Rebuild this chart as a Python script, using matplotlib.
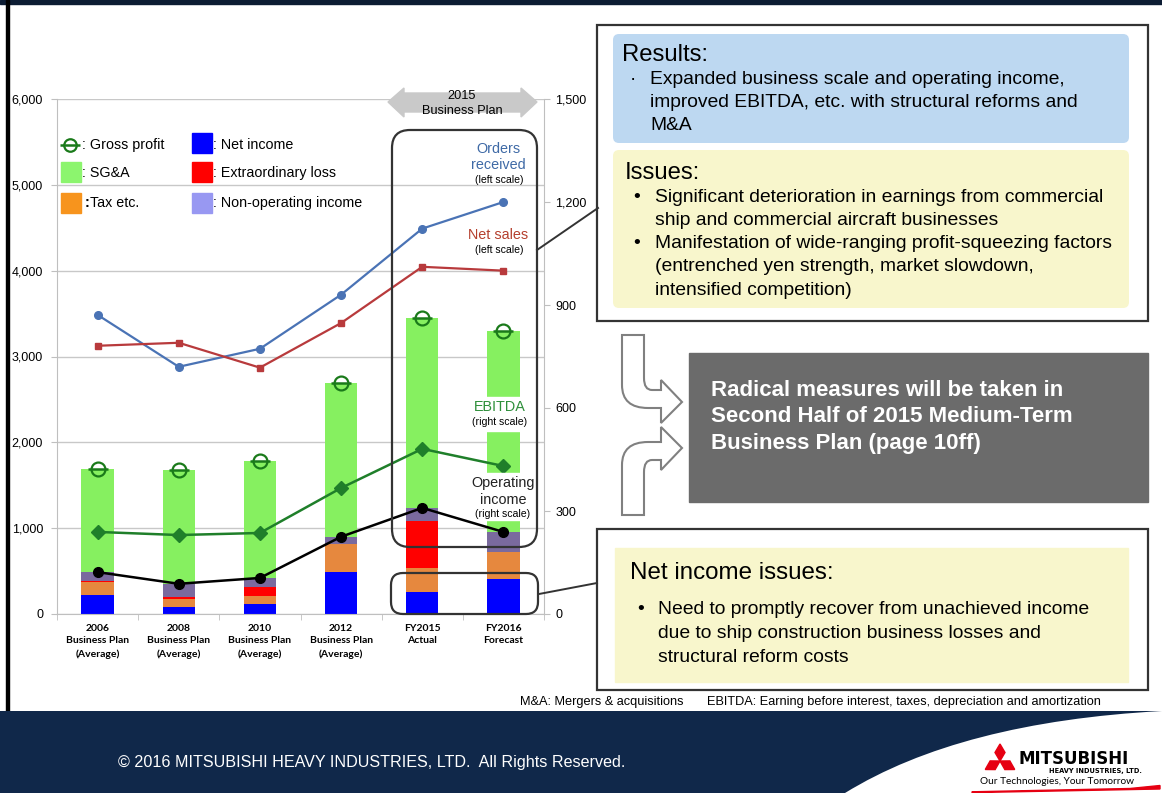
import matplotlib
matplotlib.use("Agg")
import matplotlib.pyplot as plt
import numpy as np
from matplotlib.patches import Rectangle, FancyBboxPatch, PathPatch, Polygon
from matplotlib.path import Path
from matplotlib.ticker import FuncFormatter, MultipleLocator, FixedLocator

plt.rcParams['font.family'] = ['Liberation Sans', 'DejaVu Sans']

# data (left scale: 100 million yen; right scale for EBITDA / operating income)
categories = ["2006\nBusiness Plan\n(Average)", "2008\nBusiness Plan\n(Average)",
              "2010\nBusiness Plan\n(Average)", "2012\nBusiness Plan\n(Average)",
              "FY2015\nActual", "FY2016\nForecast"]
net_income = [220, 80, 115, 490, 255, 405]
tax_etc = [150, 100, 95, 325, 280, 315]
extraordinary_loss = [20, 15, 105, 0, 550, 0]
non_operating = [100, 155, 105, 85, 150, 235]
sga = [1200, 1330, 1365, 1790, 2215, 2345]
gross_profit = [1690, 1680, 1785, 2690, 3450, 3300]
orders_received = [3485, 2880, 3090, 3720, 4490, 4800]
net_sales = [3125, 3160, 2870, 3390, 4045, 4000]
ebitda = [239, 230, 236, 367, 481, 431]
operating_income = [122, 88, 105, 225, 309, 239]

W, H = 1162, 793
fig = plt.figure(figsize=(W / 100, H / 100), dpi=100)
fig.patch.set_facecolor('white')

# ---- main chart ----
ax = fig.add_axes([57 / W, 1 - 614 / H, 487 / W, 515 / H])
x = np.arange(len(categories))
bottom = np.zeros(len(categories))
stack = [(net_income, '#0000ff'), (tax_etc, '#e6883e'), (extraordinary_loss, '#ff0000'),
         (non_operating, '#7a6a9e'), (sga, '#86f060')]
for vals, col in stack:
    ax.bar(x, vals, 0.4, bottom=bottom, color=col, zorder=2)
    bottom += np.array(vals)

ax.plot(x, orders_received, color='#4a73b5', lw=1.6, marker='o', ms=5.5, zorder=3)
ax.plot(x, net_sales, color='#b83a3c', lw=1.6, marker='s', ms=5, zorder=3)
ax.plot(x, gross_profit, ls='none', marker='o', mfc='none', mec='#1a7a1a', ms=10, mew=1.6, zorder=4)
ax.plot(x, gross_profit, ls='none', marker='_', mec='#1a7a1a', ms=15, mew=1.8, zorder=4)

ax.set_xlim(-0.5, 5.5)
ax.set_ylim(0, 6000)
ax.yaxis.set_major_locator(MultipleLocator(1000))
ax.yaxis.set_major_formatter(FuncFormatter(lambda v, p: f"{int(v):,}"))
ax.grid(axis='y', color='#c8c8c8', lw=1)
ax.set_axisbelow(True)
ax.set_xticks(x)
ax.set_xticklabels(categories, fontsize=7.5, fontweight='bold', family='Lato', linespacing=1.5)
ax.xaxis.set_minor_locator(FixedLocator(np.arange(-0.5, 6, 1)))
ax.tick_params(axis='x', which='major', length=0, pad=7)
ax.tick_params(axis='x', which='minor', length=4, color='#bfbfbf')
ax.tick_params(axis='y', length=4, color='#bfbfbf', labelsize=9, pad=6)
for s in ['top', 'right']:
    ax.spines[s].set_visible(False)
for s in ['left', 'bottom']:
    ax.spines[s].set_color('#bfbfbf')

ax2 = ax.twinx()
ax2.plot(x, ebitda, color='#1f7f2a', lw=1.8, marker='D', ms=7, zorder=3)
ax2.plot(x, operating_income, color='black', lw=1.8, marker='o', ms=7, zorder=3)
ax2.set_ylim(0, 1500)
ax2.yaxis.set_major_locator(MultipleLocator(300))
ax2.yaxis.set_major_formatter(FuncFormatter(lambda v, p: f"{int(v):,}"))
ax2.tick_params(axis='y', length=4, color='#bfbfbf', labelsize=9, pad=4)
for s in ['top', 'left', 'bottom']:
    ax2.spines[s].set_visible(False)
ax2.spines['right'].set_color('#bfbfbf')

# ---- overlay in pixel coordinates ----
ov = fig.add_axes([0, 0, 1, 1], zorder=10)
ov.set_xlim(0, W)
ov.set_ylim(H, 0)
ov.axis('off')
ov.patch.set_alpha(0)

# slide frame and footer
ov.add_patch(Rectangle((0, 0), W, 4, color='#0c1c33'))
ov.add_patch(Rectangle((6, 0), 3, 712, color='black'))
foot = Path([(0, 711), (W, 711), (960, 722), (845, H), (0, H), (0, 711)],
            [Path.MOVETO, Path.LINETO, Path.CURVE3, Path.CURVE3, Path.LINETO, Path.CLOSEPOLY])
ov.add_patch(PathPatch(foot, facecolor='#10284a', edgecolor='none'))
ov.text(118, 762, "\u00a9 2016 MITSUBISHI HEAVY INDUSTRIES, LTD.  All Rights Reserved.",
        color='white', fontsize=11.6, va='center')

# logo
O = np.array([1000, 761])
for d in [(0, -1), (-0.866, 0.5), (0.866, 0.5)]:
    d = np.array(d)
    n = np.array([-d[1], d[0]])
    L, Wd = 17, 10
    pts = [O, O + d * L / 2 + n * Wd / 2, O + d * L, O + d * L / 2 - n * Wd / 2]
    ov.add_patch(Polygon(pts, color='#e60012'))
ov.text(1018, 759, "MITSUBISHI", fontsize=12, fontweight='heavy', family='DejaVu Sans', va='center')
ov.text(1142, 770.5, "HEAVY INDUSTRIES, LTD.", fontsize=4.8, fontweight='bold', family='DejaVu Sans',
        va='center', ha='right')
ov.text(980, 782, "Our Technologies, Your Tomorrow", fontsize=7.3, family='Lato', va='center')
ov.add_patch(Polygon([(972, 791.8), (1130, 788.5), (1160, 785.5), (1160, 789), (972, 792.6)],
                     color='#e60012'))

# legend
ov.plot([70], [145], marker='o', mfc='none', mec='#1a7a1a', ms=9, mew=1.6)
ov.plot([70], [145], marker='_', mec='#1a7a1a', ms=14, mew=1.8)
leg = [((61, 162), '#8cf56e'), ((61, 193), '#f7941d'),
       ((192, 133), '#0000ff'), ((192, 162), '#ff0000'), ((192, 193), '#9898f2')]
for (lx, ly), col in leg:
    ov.add_patch(Rectangle((lx, ly), 20, 20, color=col))
ov.text(82, 145, ": Gross profit", fontsize=10.3, va='center')
ov.text(82, 173, ": SG&A", fontsize=10.3, va='center')
ov.text(85, 203, ":", fontsize=10.3, va='center', fontweight='bold')
ov.text(90, 203, "Tax etc.", fontsize=10.3, va='center')
ov.text(213, 145, ": Net income", fontsize=10.3, va='center')
ov.text(213, 173, ": Extraordinary loss", fontsize=10.3, va='center')
ov.text(213, 203, ": Non-operating income", fontsize=10.3, va='center')

# 2015 business plan arrow and boxes
ov.add_patch(Polygon([(388, 102), (404, 88), (404, 93), (521, 93), (521, 88), (537, 102),
                      (521, 117), (521, 112), (404, 112), (404, 117)], color='#c9c9c9'))
ov.text(462, 96, "2015", fontsize=9.2, ha='center', va='center')
ov.text(462, 111, "Business Plan", fontsize=9.2, ha='center', va='center')
ov.add_patch(FancyBboxPatch((392, 130), 145, 417, boxstyle="round,pad=0,rounding_size=18",
                            fc='none', ec='#333333', lw=1.6))
ov.add_patch(FancyBboxPatch((391, 573), 147, 41, boxstyle="round,pad=0,rounding_size=12",
                            fc='none', ec='#333333', lw=1.6))
ov.plot([537, 598], [250, 208], color='#333333', lw=1.4)
ov.plot([539, 597], [594, 583], color='#333333', lw=1.4)

# series labels
ov.text(498, 149, "Orders", fontsize=10.4, color='#3f6aa6', ha='center', va='center')
ov.text(498, 165, "received", fontsize=10.4, color='#3f6aa6', ha='center', va='center')
ov.text(499, 180, "(left scale)", fontsize=7.6, ha='center', va='center')
ov.text(498, 235, "Net sales", fontsize=10.4, color='#b5402e', ha='center', va='center')
ov.text(499, 250, "(left scale)", fontsize=7.6, ha='center', va='center')
ov.add_patch(Rectangle((483, 397), 40, 34, color='white'))
ov.text(500, 407, "EBITDA", fontsize=10.4, color='#2e8f3a', ha='center', va='center')
ov.text(500, 422, "(right scale)", fontsize=7.6, ha='center', va='center')
ov.add_patch(Rectangle((483, 473), 40, 47, color='white'))
ov.text(503, 483, "Operating", fontsize=10.4, color='#222222', ha='center', va='center')
ov.text(503, 500, "income", fontsize=10.4, color='#222222', ha='center', va='center')
ov.text(503, 514, "(right scale)", fontsize=7.6, ha='center', va='center')

# results / issues box
ov.add_patch(Rectangle((597, 25), 551, 296, fc='none', ec='#333333', lw=1.6))
ov.add_patch(FancyBboxPatch((613, 34), 516, 109, boxstyle="round,pad=0,rounding_size=6",
                            fc='#bdd8f1', ec='none'))
ov.add_patch(FancyBboxPatch((613, 150), 516, 158, boxstyle="round,pad=0,rounding_size=6",
                            fc='#f8f6cc', ec='none'))
ov.text(622, 55, "Results:", fontsize=17.2, va='center')
ov.text(630, 79, "\u00b7", fontsize=13.9, va='center')
for i, line in enumerate(["Expanded business scale and operating income,",
                          "improved EBITDA, etc. with structural reforms and", "M&A"]):
    ov.text(650, 79 + 23.5 * i, line, fontsize=13.9, va='center')
ov.text(625, 173, "Issues:", fontsize=17.2, va='center')
for yb in [197, 244]:
    ov.text(633, yb, "\u2022", fontsize=13.9, va='center')
for i, line in enumerate(["Significant deterioration in earnings from commercial",
                          "ship and commercial aircraft businesses",
                          "Manifestation of wide-ranging profit-squeezing factors",
                          "(entrenched yen strength, market slowdown,",
                          "intensified competition)"]):
    ov.text(655, 197 + 23.3 * i, line, fontsize=13.9, va='center')

# bent arrows
top_arrow = [(622, 335), (622, 385), (622, 408), (648, 408), (661, 408), (661, 423), (682, 402),
             (661, 380), (661, 390), (652, 390), (644, 390), (644, 378), (644, 335), (622, 335)]
codes = [Path.MOVETO, Path.LINETO, Path.CURVE3, Path.CURVE3, Path.LINETO, Path.LINETO, Path.LINETO,
         Path.LINETO, Path.LINETO, Path.LINETO, Path.CURVE3, Path.CURVE3, Path.LINETO, Path.CLOSEPOLY]
for flip in [False, True]:
    verts = [(px, 850 - py) if flip else (px, py) for px, py in top_arrow]
    ov.add_patch(PathPatch(Path(verts, codes), fc='white', ec='#808080', lw=1.5))

ov.add_patch(Rectangle((689, 353), 459, 149, color='#6b6b6b'))
for i, line in enumerate(["Radical measures will be taken in", "Second Half of 2015 Medium-Term",
                          "Business Plan (page 10ff)"]):
    ov.text(711, 390 + 26.5 * i, line, fontsize=16, fontweight='bold', color='white', va='center')

# net income issues box
ov.add_patch(Rectangle((597, 529), 551, 161, fc='none', ec='#333333', lw=1.6))
ov.add_patch(Rectangle((615, 548), 513, 134, color='#f8f6cc'))
ov.text(630, 573, "Net income issues:", fontsize=17.4, va='center')
ov.text(637, 610, "\u2022", fontsize=13.9, va='center')
for i, line in enumerate(["Need to promptly recover from unachieved income",
                          "due to ship construction business losses and",
                          "structural reform costs"]):
    ov.text(658, 610 + 23.5 * i, line, fontsize=13.9, va='center')

ov.text(520, 702, "M&A: Mergers & acquisitions", fontsize=9.2, va='center')
ov.text(707, 702, "EBITDA: Earning before interest, taxes, depreciation and amortization",
        fontsize=9.2, va='center')

fig.savefig("out.png", dpi=100)
